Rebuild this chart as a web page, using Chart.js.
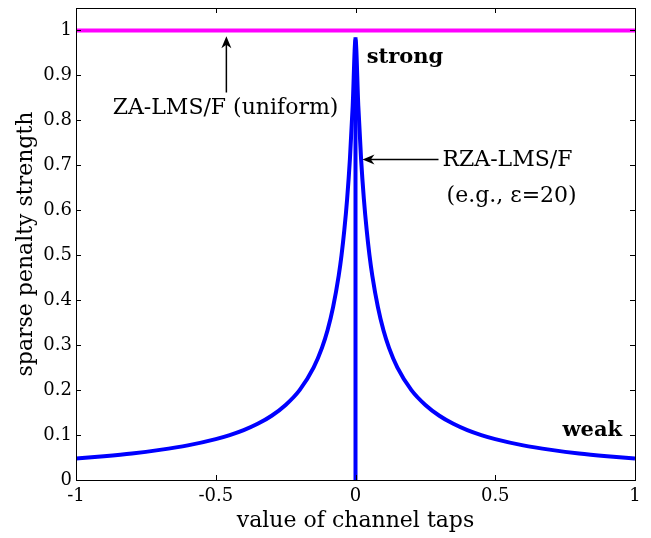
<!DOCTYPE html>
<html>
<head>
<meta charset="utf-8">
<script src="https://cdn.jsdelivr.net/npm/chart.js@4/dist/chart.umd.min.js"></script>
<style>
  html, body { margin: 0; padding: 0; background: #ffffff; }
  #wrap { width: 651px; height: 538px; }
</style>
</head>
<body>
<div id="wrap"><canvas id="c" width="651" height="538"></canvas></div>
<script>
// ---- data ----
const tapValues = [-1, -0.9, -0.8, -0.7, -0.6, -0.5, -0.45, -0.4, -0.35, -0.3, -0.25, -0.2, -0.15, -0.12, -0.1, -0.08, -0.06, -0.05, -0.04, -0.03, -0.02, -0.01, 0,
                   0.01, 0.02, 0.03, 0.04, 0.05, 0.06, 0.08, 0.1, 0.12, 0.15, 0.2, 0.25, 0.3, 0.35, 0.4, 0.45, 0.5, 0.6, 0.7, 0.8, 0.9, 1];
const rzaStrength = [0.048, 0.053, 0.059, 0.067, 0.077, 0.091, 0.100, 0.111, 0.125, 0.143, 0.167, 0.200, 0.250, 0.294, 0.333, 0.385, 0.455, 0.500, 0.556, 0.625, 0.714, 0.833, 0.980,
                     0.833, 0.714, 0.625, 0.556, 0.500, 0.455, 0.385, 0.333, 0.294, 0.250, 0.200, 0.167, 0.143, 0.125, 0.111, 0.100, 0.091, 0.077, 0.067, 0.059, 0.053, 0.048];
const spikeX = [0, 0];
const spikeY = [0, 0.985];
const uniformX = [-1, 1];
const uniformY = [1, 1];
const xTickValues = [-1, -0.5, 0, 0.5, 1];
const yTickValues = [0, 0.1, 0.2, 0.3, 0.4, 0.5, 0.6, 0.7, 0.8, 0.9, 1];
const xTitle = 'value of channel taps';
const yTitle = 'sparse penalty strength';

const toPts = (xs, ys) => xs.map((x, i) => ({ x: x, y: ys[i] }));

const SERIF = '"DejaVu Serif", "Liberation Serif", serif';

const decor = {
  id: 'decor',
  afterDatasetsDraw(chart) {
    const ctx = chart.ctx;
    const a = chart.chartArea;
    const xs = chart.scales.x, ys = chart.scales.y;
    ctx.save();
    // box
    ctx.strokeStyle = '#000';
    ctx.lineWidth = 1;
    ctx.strokeRect(Math.round(a.left) + 0.5, Math.round(a.top) + 0.5, Math.round(a.right - a.left), Math.round(a.bottom - a.top));
    // inside ticks on all four sides
    const tl = 5;
    ctx.beginPath();
    xTickValues.forEach(v => {
      const px = Math.round(xs.getPixelForValue(v)) + 0.5;
      ctx.moveTo(px, a.bottom); ctx.lineTo(px, a.bottom - tl);
      ctx.moveTo(px, a.top); ctx.lineTo(px, a.top + tl);
    });
    yTickValues.forEach(v => {
      const py = Math.round(ys.getPixelForValue(v)) + 0.5;
      ctx.moveTo(a.left, py); ctx.lineTo(a.left + tl, py);
      ctx.moveTo(a.right, py); ctx.lineTo(a.right - tl, py);
    });
    ctx.stroke();

    // axis titles
    ctx.fillStyle = '#000';
    ctx.font = '22px ' + SERIF;
    ctx.textAlign = 'center';
    ctx.textBaseline = 'middle';
    ctx.fillText(xTitle, (a.left + a.right) / 2, 521);
    ctx.save();
    ctx.translate(26, (a.top + a.bottom) / 2);
    ctx.rotate(-Math.PI / 2);
    ctx.fillText(yTitle, 0, 0);
    ctx.restore();

    // annotations
    const P = (x, y) => [xs.getPixelForValue(x), ys.getPixelForValue(y)];
    ctx.font = '22px ' + SERIF;
    ctx.textAlign = 'center';
    let p = P(-0.465, 0.828);
    ctx.fillText('ZA-LMS/F (uniform)', p[0], p[1]);
    ctx.textAlign = 'left';
    p = P(0.311, 0.711);
    ctx.fillText('RZA-LMS/F', p[0], p[1]);
    p = P(0.326, 0.631);
    ctx.fillText('(e.g., \u03B5=20)', p[0], p[1]);
    ctx.font = 'bold 21px ' + SERIF;
    p = P(0.04, 0.94);
    ctx.fillText('strong', p[0], p[1]);
    ctx.textAlign = 'right';
    p = P(0.954, 0.111);
    ctx.fillText('weak', p[0], p[1]);

    // arrows
    ctx.strokeStyle = '#000';
    ctx.lineWidth = 1.5;
    const arrow = (x0, y0, x1, y1) => {
      const [ax, ay] = P(x0, y0);
      const [bx, by] = P(x1, y1);
      const ang = Math.atan2(by - ay, bx - ax);
      const hl = 12, hw = 5;
      ctx.beginPath();
      ctx.moveTo(ax, ay);
      ctx.lineTo(bx - Math.cos(ang) * 6, by - Math.sin(ang) * 6);
      ctx.stroke();
      ctx.beginPath();
      ctx.moveTo(bx, by);
      ctx.lineTo(bx - hl * Math.cos(ang) + hw * Math.sin(ang), by - hl * Math.sin(ang) - hw * Math.cos(ang));
      ctx.lineTo(bx - hl * 0.7 * Math.cos(ang), by - hl * 0.7 * Math.sin(ang));
      ctx.lineTo(bx - hl * Math.cos(ang) - hw * Math.sin(ang), by - hl * Math.sin(ang) + hw * Math.cos(ang));
      ctx.closePath();
      ctx.fillStyle = '#000';
      ctx.fill();
    };
    arrow(-0.462, 0.862, -0.462, 0.987);
    arrow(0.297, 0.713, 0.025, 0.713);
    ctx.restore();
  }
};

new Chart(document.getElementById('c'), {
  type: 'scatter',
  data: {
    datasets: [
      { data: toPts(uniformX, uniformY), showLine: true, borderColor: '#ff00ff', borderWidth: 4, pointRadius: 0, tension: 0 },
      { data: toPts(spikeX, spikeY), showLine: true, borderColor: '#0000ff', borderWidth: 4, pointRadius: 0, tension: 0 },
      { data: toPts(tapValues, rzaStrength), showLine: true, borderColor: '#0000ff', borderWidth: 4, pointRadius: 0, cubicInterpolationMode: 'monotone' }
    ]
  },
  options: {
    responsive: false,
    animation: false,
    events: [],
    layout: { padding: { left: 0, right: 16, top: 8, bottom: 0 } },
    plugins: { legend: { display: false }, tooltip: { enabled: false } },
    scales: {
      x: {
        type: 'linear', min: -1, max: 1,
        afterBuildTicks: s => { s.ticks = xTickValues.map(v => ({ value: v })); },
        afterFit: s => { s.height = 58; s.paddingLeft = 0; s.paddingRight = 0; },
        grid: { display: false, drawTicks: false },
        border: { display: true, color: '#000', width: 1 },
        ticks: { color: '#000', font: { family: SERIF, size: 18 }, padding: 6, maxRotation: 0,
                 callback: v => String(v) }
      },
      y: {
        type: 'linear', min: 0, max: 1.05,
        afterBuildTicks: s => { s.ticks = yTickValues.map(v => ({ value: v })); },
        afterFit: s => { s.width = 76; s.paddingTop = 0; s.paddingBottom = 0; },
        grid: { display: false, drawTicks: false },
        border: { display: true, color: '#000', width: 1 },
        ticks: { color: '#000', font: { family: SERIF, size: 18 }, padding: 4,
                 callback: v => String(v) }
      }
    }
  },
  plugins: [decor]
});
</script>
</body>
</html>
